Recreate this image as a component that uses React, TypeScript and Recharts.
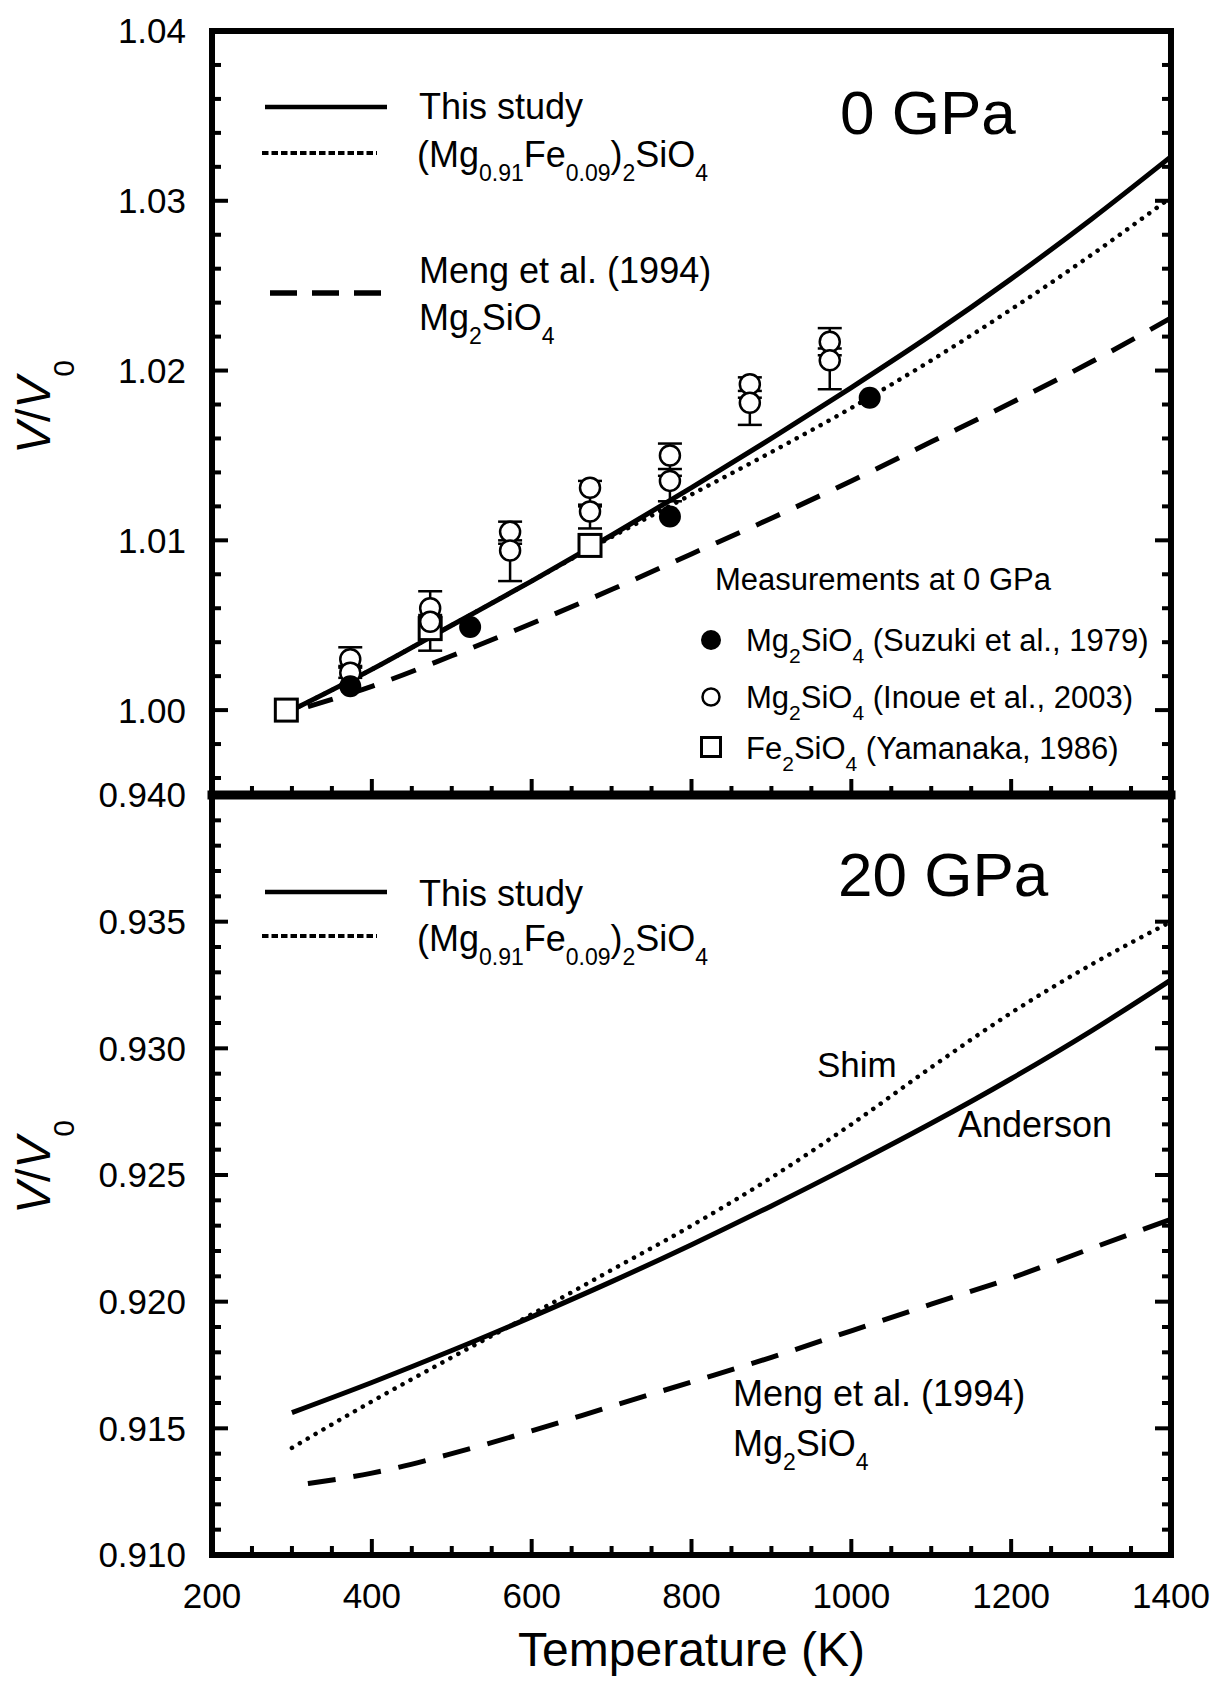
import React from 'react';
import { ComposedChart, Line, Scatter, XAxis, YAxis, ErrorBar, Customized } from 'recharts';

const FONT = '"Liberation Sans", Arial, Helvetica, sans-serif';

// ---------- data ----------
const T_GRID = [300, 400, 500, 600, 700, 800, 900, 1000, 1100, 1200, 1300, 1400];
const MENG_T = [320, 400, 500, 600, 700, 800, 900, 1000, 1100, 1200, 1300, 1400];

// 0 GPa
const THIS_STUDY_0 = [1.0, 1.0024, 1.005, 1.0076, 1.0103, 1.0131, 1.016, 1.019, 1.0221, 1.0254, 1.0289, 1.0326];
const THIS_STUDY_DOT_0 = [1.0, 1.0024, 1.005, 1.0076, 1.0102, 1.0127, 1.0152, 1.0178, 1.0206, 1.0236, 1.0268, 1.0302];
const MENG_0 = [1.0002, 1.0014, 1.0032, 1.0051, 1.0071, 1.0092, 1.0113, 1.0135, 1.0158, 1.0181, 1.0205, 1.0231];

// 20 GPa
const THIS_STUDY_20 = [0.91562, 0.91681, 0.91807, 0.9194, 0.92079, 0.92225, 0.92378, 0.92538, 0.92704, 0.9288, 0.93068, 0.9327];
const THIS_STUDY_DOT_20 = [0.91423, 0.91606, 0.9178, 0.9195, 0.92125, 0.923, 0.9249, 0.927, 0.92925, 0.9314, 0.9333, 0.935];
const MENG_20 = [0.91282, 0.91323, 0.914, 0.9149, 0.91587, 0.91683, 0.9178, 0.91885, 0.9199, 0.92093, 0.9221, 0.92325];

// measurements at 0 GPa
const SUZUKI_T = [373, 523, 773, 1023];
const SUZUKI_V = [1.0014, 1.0049, 1.0114, 1.0184];
const INOUE_T = [373, 373, 473, 473, 573, 573, 673, 673, 773, 773, 873, 873, 973, 973];
const INOUE_V = [1.003, 1.0022, 1.006, 1.0052, 1.0105, 1.0094, 1.0131, 1.0117, 1.015, 1.0135, 1.0192, 1.0181, 1.0217, 1.0206];
const INOUE_ERR_LO = [0.0004, 0.0003, 0.0005, 0.0017, 0.0005, 0.0018, 0.001, 0.001, 0.0008, 0.0012, 0.0004, 0.0013, 0.0004, 0.0017];
const INOUE_ERR_HI = [0.0007, 0.0003, 0.001, 0.0004, 0.0006, 0.0004, 0.0004, 0.0003, 0.0007, 0.0003, 0.0004, 0.0003, 0.0008, 0.0003];
const YAMANAKA_T = [293, 473, 673];
const YAMANAKA_V = [1.0, 1.0048, 1.0097];

// axes
const X_DOMAIN: [number, number] = [200, 1400];
const X_MAJOR = [200, 400, 600, 800, 1000, 1200, 1400];
const X_MINOR = [250, 300, 350, 450, 500, 550, 650, 700, 750, 850, 900, 950, 1050, 1100, 1150, 1250, 1300, 1350];
const Y0_DOMAIN: [number, number] = [0.995, 1.04];
const Y0_MAJOR = [1.0, 1.01, 1.02, 1.03, 1.04];
const Y0_MINOR = [0.996, 0.998, 1.002, 1.004, 1.006, 1.008, 1.012, 1.014, 1.016, 1.018, 1.022, 1.024, 1.026, 1.028, 1.032, 1.034, 1.036, 1.038];
const Y20_DOMAIN: [number, number] = [0.91, 0.94];
const Y20_MAJOR = [0.91, 0.915, 0.92, 0.925, 0.93, 0.935, 0.94];
const Y20_MINOR = [0.911, 0.912, 0.913, 0.914, 0.916, 0.917, 0.918, 0.919, 0.921, 0.922, 0.923, 0.924, 0.926, 0.927, 0.928, 0.929, 0.931, 0.932, 0.933, 0.934, 0.936, 0.937, 0.938, 0.939];

// text
type Part = [string, boolean];
const F_MGFE: Part[] = [['(Mg', false], ['0.91', true], ['Fe', false], ['0.09', true], [')', false], ['2', true], ['SiO', false], ['4', true]];
const F_MG2: Part[] = [['Mg', false], ['2', true], ['SiO', false], ['4', true]];
const F_FE2: Part[] = [['Fe', false], ['2', true], ['SiO', false], ['4', true]];

const zip = (xs: number[], ys: number[]) => xs.map((T, i) => ({ T, v: ys[i] }));

const thisStudy0 = zip(T_GRID, THIS_STUDY_0);
const thisStudyDot0 = zip(T_GRID, THIS_STUDY_DOT_0);
const meng0 = zip(MENG_T, MENG_0);
const thisStudy20 = zip(T_GRID, THIS_STUDY_20);
const thisStudyDot20 = zip(T_GRID, THIS_STUDY_DOT_20);
const meng20 = zip(MENG_T, MENG_20);
const suzuki = zip(SUZUKI_T, SUZUKI_V);
const inoue = INOUE_T.map((T, i) => ({ T, v: INOUE_V[i], err: [INOUE_ERR_LO[i], INOUE_ERR_HI[i]] }));
const yamanaka = zip(YAMANAKA_T, YAMANAKA_V);

// ---------- helpers ----------
function ChemText({ x, y, parts, size, sub, shift }: { x: number; y: number; parts: Part[]; size: number; sub: number; shift: number }) {
  let down = false;
  const spans = parts.map(([s, isSub], i) => {
    let dy = 0;
    if (isSub && !down) { dy = shift; down = true; }
    else if (!isSub && down) { dy = -shift; down = false; }
    return (
      <tspan key={i} dy={dy} fontSize={isSub ? sub : size}>{s}</tspan>
    );
  });
  return (
    <text x={x} y={y} fontFamily={FONT} fontSize={size} fill="#000">{spans}</text>
  );
}

const AX = { stroke: '#000', strokeWidth: 6, strokeLinecap: 'square' as const };
const TINY = 0.01;
const MAJOR_LEN = 16;
const MINOR_LEN = 9;
const LABEL_SIZE = 35;

const sortNum = (a: number[]) => [...a].sort((p, q) => p - q);
const isMajor = (v: number, majors: number[]) => majors.some((m) => Math.abs(m - v) < 1e-9);

// inward tick mark (major/minor) plus optional label, drawn from the axis position
function sideTick(side: 'l' | 'r' | 't' | 'b', majors: number[], fmt?: (v: number) => string) {
  return (p: any) => {
    const x = Number(p.x);
    const y = Number(p.y);
    const v = Number(p.payload ? p.payload.value : NaN);
    const major = isMajor(v, majors);
    const len = major ? MAJOR_LEN : MINOR_LEN;
    let x2 = x;
    let y2 = y;
    if (side === 'l') x2 = x + len;
    if (side === 'r') x2 = x - len;
    if (side === 't') y2 = y + len;
    if (side === 'b') y2 = y - len;
    let label = null;
    if (fmt && major) {
      if (side === 'l') {
        label = (
          <text x={x - 26} y={y} dy="0.355em" textAnchor="end" fontSize={LABEL_SIZE} fontFamily={FONT} fill="#000">{fmt(v)}</text>
        );
      } else if (side === 'b') {
        label = (
          <text x={x} y={y + 28} dy="0.71em" textAnchor="middle" fontSize={LABEL_SIZE} fontFamily={FONT} fill="#000">{fmt(v)}</text>
        );
      }
    }
    return (
      <g>
        <line x1={x} y1={y} x2={x2} y2={y2} stroke="#000" strokeWidth={4} />
        {label}
      </g>
    );
  };
}

function makeYTitle(dyShift: number) {
  return (props: any) => {
    const vb = props.viewBox || { x: 0, y: 0, height: 0 };
    const cy = vb.y + vb.height / 2 + dyShift;
    const X = 50;
    return (
      <text transform={`rotate(-90, ${X}, ${cy})`} x={X} y={cy} textAnchor="middle" fontFamily={FONT} fontSize={48} fill="#000">
        <tspan fontStyle="italic">V</tspan>
        <tspan>/</tspan>
        <tspan fontStyle="italic">V</tspan>
        <tspan dy={24} fontSize={30}>0</tspan>
      </text>
    );
  };
}

function frameAxes(o: {
  yDomain: [number, number];
  yMajor: number[];
  yMinor: number[];
  digits: number;
  xLabels: boolean;
  bottomWidth: number;
  titleShift: number;
}) {
  const xAll = sortNum([...X_MAJOR, ...X_MINOR]);
  const yAll = sortNum([...o.yMajor, ...o.yMinor]);
  const common = { allowDataOverflow: true, interval: 0 as const, tickLine: false, tickSize: 0, tickMargin: 0, type: 'number' as const };
  const xc = { ...common, domain: X_DOMAIN, height: TINY, ticks: xAll };
  const yc = { ...common, domain: o.yDomain, width: TINY, ticks: yAll };
  return [
    <XAxis
      key="x"
      xAxisId="x"
      dataKey="T"
      {...xc}
      orientation="bottom"
      tick={sideTick('b', X_MAJOR, o.xLabels ? (v) => String(v) : undefined)}
      axisLine={{ ...AX, strokeWidth: o.bottomWidth }}
      label={o.xLabels ? { value: 'Temperature (K)', position: 'bottom', offset: 77, fontSize: 48, fill: '#000', fontFamily: FONT } : undefined}
    />,
    <XAxis key="xt" xAxisId="xt" {...xc} orientation="top" tick={sideTick('t', X_MAJOR)} axisLine={AX} />,
    <YAxis
      key="y"
      yAxisId="y"
      dataKey="v"
      {...yc}
      orientation="left"
      tick={sideTick('l', o.yMajor, (v) => v.toFixed(o.digits))}
      axisLine={AX}
      label={makeYTitle(o.titleShift)}
    />,
    <YAxis key="yr" yAxisId="yr" {...yc} orientation="right" tick={sideTick('r', o.yMajor)} axisLine={AX} />,
  ];
}

const FilledCircle = (p: any) => <circle cx={p.cx} cy={p.cy} r={11} fill="#000" />;
const OpenCircle = (p: any) => <circle cx={p.cx} cy={p.cy} r={10} fill="#fff" stroke="#000" strokeWidth={2.5} />;
const OpenSquare = (p: any) => (
  <rect x={p.cx - 11} y={p.cy - 11} width={22} height={22} fill="#fff" stroke="#000" strokeWidth={3} />
);
const Blank = () => <g />;

const SOLID = { stroke: '#000', strokeWidth: 5 };
const DOTTED = { stroke: '#000', strokeWidth: 4.5, strokeDasharray: '0.1 9', strokeLinecap: 'round' as const };
const DASHED = { stroke: '#000', strokeWidth: 5, strokeDasharray: '26 18' };

// ---------- overlays (legends & annotations) ----------
const TopOverlay = () => (
  <g fontFamily={FONT} fill="#000">
    <line x1={265} x2={387} y1={107} y2={107} stroke="#000" strokeWidth={4.5} />
    <text x={419} y={119} fontSize={36}>This study</text>
    <line x1={262} x2={377} y1={153} y2={153} stroke="#000" strokeWidth={4} strokeDasharray="6.5 3" />
    <ChemText x={417} y={167} parts={F_MGFE} size={36} sub={23} shift={14} />
    <line x1={270} x2={381} y1={293} y2={293} stroke="#000" strokeWidth={5.5} strokeDasharray="27 15" />
    <text x={419} y={283} fontSize={36}>Meng et al. (1994)</text>
    <ChemText x={419} y={330} parts={F_MG2} size={36} sub={23} shift={14} />
    <text x={840} y={134} fontSize={62}>0 GPa</text>

    <text x={715} y={590} fontSize={31}>Measurements at 0 GPa</text>
    <circle cx={711} cy={640} r={10} fill="#000" />
    <ChemText x={746} y={651} parts={[...F_MG2, [' (Suzuki et al., 1979)', false]]} size={31} sub={21} shift={12} />
    <circle cx={711} cy={697} r={8.5} fill="#fff" stroke="#000" strokeWidth={2.5} />
    <ChemText x={746} y={708} parts={[...F_MG2, [' (Inoue et al., 2003)', false]]} size={31} sub={21} shift={12} />
    <rect x={701.5} y={737.5} width={19} height={19} fill="#fff" stroke="#000" strokeWidth={3} />
    <ChemText x={746} y={759} parts={[...F_FE2, [' (Yamanaka, 1986)', false]]} size={31} sub={21} shift={12} />
  </g>
);

// bottom chart svg starts at page y = 740
const BottomOverlay = () => (
  <g fontFamily={FONT} fill="#000">
    <line x1={265} x2={387} y1={152} y2={152} stroke="#000" strokeWidth={4.5} />
    <text x={419} y={166} fontSize={36}>This study</text>
    <line x1={262} x2={377} y1={196} y2={196} stroke="#000" strokeWidth={4} strokeDasharray="6.5 3" />
    <ChemText x={417} y={211} parts={F_MGFE} size={36} sub={23} shift={14} />
    <text x={838} y={156} fontSize={62}>20 GPa</text>
    <text x={817} y={337} fontSize={35}>Shim</text>
    <text x={958} y={397} fontSize={36}>Anderson</text>
    <text x={733} y={666} fontSize={36}>Meng et al. (1994)</text>
    <ChemText x={733} y={716} parts={F_MG2} size={36} sub={23} shift={14} />
  </g>
);

export default function App() {
  return (
    <div style={{ position: 'absolute', left: 0, top: 0, width: 1217, height: 1693, background: '#fff', fontFamily: FONT }}>
      <div style={{ position: 'absolute', left: 0, top: 0 }}>
        <ComposedChart width={1217} height={800} margin={{ top: 31, right: 46, bottom: 5, left: 212 }}>
          {frameAxes({ yDomain: Y0_DOMAIN, yMajor: Y0_MAJOR, yMinor: Y0_MINOR, digits: 2, xLabels: false, bottomWidth: 9, titleShift: -6 })}
          <Line xAxisId="x" yAxisId="y" data={meng0} dataKey="v" type="monotone" dot={false} {...DASHED} isAnimationActive={false} />
          <Line xAxisId="x" yAxisId="y" data={thisStudyDot0} dataKey="v" type="monotone" dot={false} {...DOTTED} isAnimationActive={false} />
          <Line xAxisId="x" yAxisId="y" data={thisStudy0} dataKey="v" type="monotone" dot={false} {...SOLID} isAnimationActive={false} />
          <Scatter xAxisId="x" yAxisId="y" data={inoue} dataKey="v" shape={Blank} isAnimationActive={false}>
            <ErrorBar dataKey="err" direction="y" width={12} stroke="#000" strokeWidth={2.5} isAnimationActive={false} />
          </Scatter>
          <Scatter xAxisId="x" yAxisId="y" data={yamanaka} dataKey="v" shape={OpenSquare} isAnimationActive={false} />
          <Scatter xAxisId="x" yAxisId="y" data={inoue} dataKey="v" shape={OpenCircle} isAnimationActive={false} />
          <Scatter xAxisId="x" yAxisId="y" data={suzuki} dataKey="v" shape={FilledCircle} isAnimationActive={false} />
          <Customized component={<TopOverlay />} />
        </ComposedChart>
      </div>
      <div style={{ position: 'absolute', left: 0, top: 740 }}>
        <ComposedChart width={1217} height={953} margin={{ top: 55, right: 46, bottom: 138, left: 212 }}>
          {frameAxes({ yDomain: Y20_DOMAIN, yMajor: Y20_MAJOR, yMinor: Y20_MINOR, digits: 3, xLabels: true, bottomWidth: 6, titleShift: -8 })}
          <Line xAxisId="x" yAxisId="y" data={meng20} dataKey="v" type="monotone" dot={false} {...DASHED} strokeDasharray="28 18" isAnimationActive={false} />
          <Line xAxisId="x" yAxisId="y" data={thisStudyDot20} dataKey="v" type="monotone" dot={false} {...DOTTED} isAnimationActive={false} />
          <Line xAxisId="x" yAxisId="y" data={thisStudy20} dataKey="v" type="monotone" dot={false} {...SOLID} isAnimationActive={false} />
          <Customized component={<BottomOverlay />} />
        </ComposedChart>
      </div>
    </div>
  );
}
